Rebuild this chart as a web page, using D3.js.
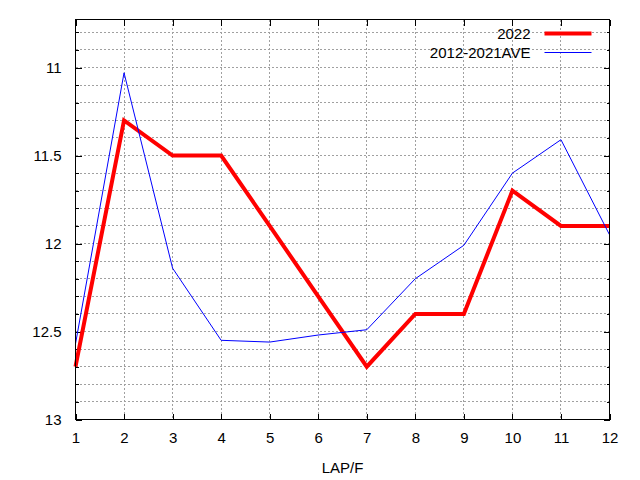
<!DOCTYPE html>
<html>
<head>
<meta charset="utf-8">
<script src="https://cdn.jsdelivr.net/npm/d3@7"></script>
<style>
  body { margin: 0; background: #fff; }
  svg { display: block; font-family: 'Liberation Sans', Arial, sans-serif; }
  .axis text { font-size: 15px; fill: #000; }
  .axis .domain { display: none; }
  .axis line { stroke: #000; shape-rendering: crispEdges; }
  .grid line { stroke: #a0a0a0; stroke-dasharray: 2,2; shape-rendering: crispEdges; }
</style>
</head>
<body>
<svg width="640" height="480"></svg>
<script>
const laps = [1, 2, 3, 4, 5, 6, 7, 8, 9, 10, 11, 12]
const y2022 = [12.7, 11.3, 11.5, 11.5, 11.9, 12.3, 12.7, 12.4, 12.4, 11.7, 11.9, 11.9]
const yAve = [12.57, 11.03, 12.14, 12.55, 12.56, 12.52, 12.49, 12.2, 12.01, 11.6, 11.41, 11.95]
const seriesNames = ['2022', '2012-2021AVE']
const yTicks = [11, 11.5, 12, 12.5, 13]
const xLabel = 'LAP/F'

const svg = d3.select('svg')
const width = +svg.attr('width')
const height = +svg.attr('height')
const margin = { top: 19.5, right: 30.5, bottom: 60.5, left: 75.5 }
const innerWidth = width - margin.left - margin.right
const innerHeight = height - margin.top - margin.bottom

svg.append('rect').attr('width', width).attr('height', height).attr('fill', '#fff')

const xScale = d3.scaleLinear()
  .domain([1, 12])
  .range([0, innerWidth])

// inverted axis: faster times on top
const yScale = d3.scaleLinear()
  .domain([13, 10.727])
  .range([innerHeight, 0])

const g = svg.append('g')
  .attr('transform', `translate(${margin.left}, ${margin.top})`)

// grid
const minorY = yScale.ticks(20).filter(v => v > 10.75 && v < 12.95)
g.append('g').attr('class', 'grid')
  .selectAll('line')
  .data(minorY)
  .enter().append('line')
  .attr('x1', 0).attr('x2', innerWidth)
  .attr('y1', d => yScale(d)).attr('y2', d => yScale(d))

g.append('g').attr('class', 'grid')
  .selectAll('line')
  .data(laps.slice(1, -1))
  .enter().append('line')
  .attr('x1', d => xScale(d)).attr('x2', d => xScale(d))
  .attr('y1', 0).attr('y2', innerHeight)

// axes (mirror ticks have no labels)
const tickOnly = sel => sel.selectAll('text').remove()

g.append('g').attr('class', 'axis')
  .call(d3.axisLeft(yScale).tickValues(yTicks).tickSizeInner(-6).tickSizeOuter(0)
    .tickPadding(14).tickFormat(d3.format('')))
g.append('g').attr('class', 'axis')
  .call(d3.axisLeft(yScale).tickValues(minorY).tickSizeInner(-3).tickSizeOuter(0))
  .call(tickOnly)
g.append('g').attr('class', 'axis')
  .attr('transform', `translate(${innerWidth}, 0)`)
  .call(d3.axisRight(yScale).tickValues(yTicks).tickSizeInner(-6).tickSizeOuter(0))
  .call(tickOnly)
g.append('g').attr('class', 'axis')
  .attr('transform', `translate(${innerWidth}, 0)`)
  .call(d3.axisRight(yScale).tickValues(minorY).tickSizeInner(-3).tickSizeOuter(0))
  .call(tickOnly)
g.append('g').attr('class', 'axis')
  .attr('transform', `translate(0, ${innerHeight})`)
  .call(d3.axisBottom(xScale).tickValues(laps).tickSizeInner(-6).tickSizeOuter(0)
    .tickPadding(13).tickFormat(d3.format('d')))
g.append('g').attr('class', 'axis')
  .call(d3.axisTop(xScale).tickValues(laps).tickSizeInner(-6).tickSizeOuter(0))
  .call(tickOnly)

g.append('text')
  .attr('x', innerWidth / 2)
  .attr('y', innerHeight + 53)
  .attr('text-anchor', 'middle')
  .style('font-size', '15px')
  .text(xLabel)

// series
const series = [
  { name: seriesNames[0], values: y2022, color: '#ff0000', width: 4 },
  { name: seriesNames[1], values: yAve, color: '#0000ff', width: 1 }
]

const line = d3.line()
  .x((d, i) => xScale(laps[i]))
  .y(d => yScale(d))

g.selectAll('.series')
  .data(series)
  .enter().append('path')
  .attr('class', 'series')
  .attr('fill', 'none')
  .attr('stroke', d => d.color)
  .attr('stroke-width', d => d.width)
  .attr('stroke-linejoin', 'miter')
  .attr('d', d => line(d.values))

// frame
g.append('rect')
  .attr('width', innerWidth).attr('height', innerHeight)
  .attr('fill', 'none').attr('stroke', '#000')
  .style('shape-rendering', 'crispEdges')

// legend
const legend = g.selectAll('.legend')
  .data(series)
  .enter().append('g')
  .attr('class', 'legend')
  .attr('transform', (d, i) => `translate(0, ${14 + i * 19})`)

legend.append('text')
  .attr('x', 455)
  .attr('y', 0)
  .attr('dy', '0.35em')
  .attr('text-anchor', 'end')
  .style('font-size', '15px')
  .text(d => d.name)

legend.append('line')
  .attr('x1', 469).attr('x2', 516)
  .attr('stroke', d => d.color)
  .attr('stroke-width', d => d.width)
</script>
</body>
</html>
